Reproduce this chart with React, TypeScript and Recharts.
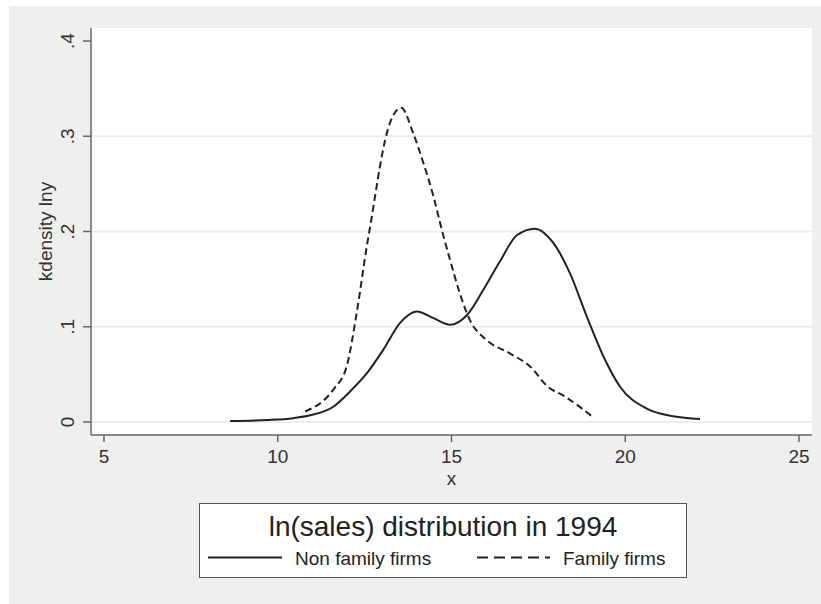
import React from "react"
import { LineChart, Line, XAxis, YAxis, CartesianGrid } from "recharts"

// kdensity of ln(sales), 1994
const nonFamilyX = [8.63, 9.68, 10.45, 10.93, 11.6, 12.08, 12.56, 13.04, 13.52, 14.0, 14.48, 14.96, 15.44, 15.92, 16.4, 16.88, 17.4, 17.93, 18.41, 18.89, 19.37, 19.85, 20.62, 21.38, 22.15]
const nonFamilyY = [0.001, 0.002, 0.004, 0.007, 0.016, 0.032, 0.051, 0.076, 0.104, 0.116, 0.109, 0.102, 0.112, 0.139, 0.169, 0.196, 0.203, 0.188, 0.156, 0.111, 0.069, 0.037, 0.014, 0.006, 0.003]

const familyX = [10.79, 11.6, 11.98, 12.27, 12.56, 12.7, 12.8, 12.94, 13.09, 13.23, 13.55, 13.9, 14.19, 14.48, 14.72, 14.96, 15.24, 15.53, 16.01, 16.68, 17.27, 17.77, 18.25, 19.11]
const familyY = [0.011, 0.034, 0.058, 0.114, 0.184, 0.214, 0.237, 0.268, 0.296, 0.314, 0.33, 0.303, 0.272, 0.237, 0.202, 0.17, 0.135, 0.107, 0.086, 0.072, 0.058, 0.037, 0.027, 0.004]

const xTicks = [5, 10, 15, 20, 25]
const yTicks = [0, 0.1, 0.2, 0.3, 0.4]
const gridValues = [0, 0.1, 0.2, 0.3]

const legendTitle = "ln(sales) distribution in 1994"
const seriesNames = ["Non family firms", "Family firms"]

const nonFamily = nonFamilyX.map((x, i) => ({ x, y: nonFamilyY[i] }))
const family = familyX.map((x, i) => ({ x, y: familyY[i] }))

const INK = "#222"
const TEXT = "#333"
const AXIS = "#666"

// Stata prints .1 instead of 0.1
const fmtY = (v: number) => (v === 0 ? "0" : String(v).replace(/^0/, ""))

const YTick = (props: any) => {
  const { x, y, payload } = props
  return (
    <text
      x={x}
      y={y}
      transform={`rotate(-90 ${x} ${y})`}
      textAnchor="middle"
      fontSize={19}
      fill={TEXT}
    >
      {fmtY(payload.value)}
    </text>
  )
}

const YLabel = (props: any) => {
  const vb = props.viewBox
  const cy = vb.y + vb.height / 2
  const bx = 43
  return (
    <text
      x={bx}
      y={cy}
      transform={`rotate(-90 ${bx} ${cy})`}
      textAnchor="middle"
      fontSize={19}
      fill={TEXT}
    >
      kdensity lny
    </text>
  )
}

const XLabel = (props: any) => {
  const vb = props.viewBox
  return (
    <text x={vb.x + vb.width / 2} y={vb.y + 50} textAnchor="middle" fontSize={19} fill={TEXT}>
      x
    </text>
  )
}

const LegendBox = () => (
  <div
    style={{
      position: "absolute",
      left: 190,
      top: 497,
      width: 488,
      height: 75,
      boxSizing: "border-box",
      border: "1.5px solid #555",
      background: "#fff",
    }}
  >
    <svg width={486} height={73} style={{ display: "block" }}>
      <text x={243} y={32} textAnchor="middle" fontSize={28} fill={INK}>
        {legendTitle}
      </text>
      <line x1={8} x2={82} y1={53.5} y2={53.5} stroke={INK} strokeWidth={2} />
      <text x={95} y={61} fontSize={19} fill={INK}>
        {seriesNames[0]}
      </text>
      <line x1={277} x2={350} y1={53.5} y2={53.5} stroke={INK} strokeWidth={2} strokeDasharray="11 6" />
      <text x={363} y={61} fontSize={19} fill={INK}>
        {seriesNames[1]}
      </text>
    </svg>
  </div>
)

export default function App() {
  return (
    <div
      style={{
        position: "absolute",
        left: 9,
        top: 6,
        width: 812,
        height: 598,
        background: "#efefef",
        fontFamily: "'Liberation Sans', Arial, sans-serif",
      }}
    >
      <LineChart width={812} height={598} margin={{ top: 22, right: 9, left: 0, bottom: 0 }}>
        <CartesianGrid
          vertical={false}
          horizontalValues={gridValues}
          fill="#fff"
          stroke="#ececec"
          strokeWidth={2}
        />
        <XAxis
          type="number"
          dataKey="x"
          domain={[4.626, 25.374]}
          ticks={xTicks}
          height={169}
          tickSize={7}
          tickMargin={8}
          stroke={AXIS}
          strokeWidth={1.5}
          tick={{ fontSize: 19, fill: TEXT }}
          label={{ content: XLabel }}
        />
        <YAxis
          type="number"
          dataKey="y"
          domain={[-0.0137, 0.4137]}
          ticks={yTicks}
          width={82}
          tickSize={8}
          tickMargin={9}
          stroke={AXIS}
          strokeWidth={1.5}
          tick={YTick}
          label={{ content: YLabel }}
        />
        <Line
          data={nonFamily}
          dataKey="y"
          name={seriesNames[0]}
          type="monotone"
          stroke={INK}
          strokeWidth={2}
          dot={false}
          isAnimationActive={false}
        />
        <Line
          data={family}
          dataKey="y"
          name={seriesNames[1]}
          type="monotone"
          stroke={INK}
          strokeWidth={2}
          strokeDasharray="7 4"
          dot={false}
          isAnimationActive={false}
        />
      </LineChart>
      <LegendBox />
    </div>
  )
}
